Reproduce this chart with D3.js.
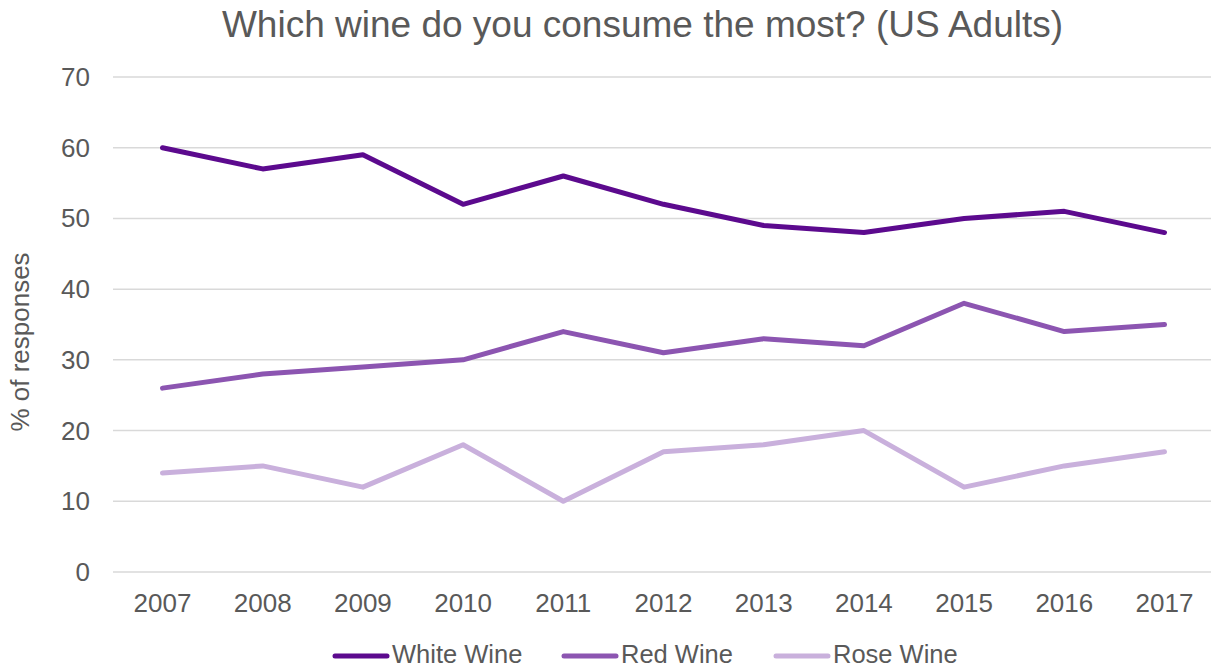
<!DOCTYPE html>
<html><head><meta charset="utf-8">
<script src="https://cdn.jsdelivr.net/npm/d3@7"></script>
<style>body{margin:0;background:#fff;} svg{display:block;font-family:"Liberation Sans",Arial,sans-serif;}</style>
</head><body>
<svg id="c" width="1211" height="669"></svg>
<script>
const years = ["2007","2008","2009","2010","2011","2012","2013","2014","2015","2016","2017"];
const whiteWine = [60,57,59,52,56,52,49,48,50,51,48];
const redWine = [26,28,29,30,34,31,33,32,38,34,35];
const roseWine = [14,15,12,18,10,17,18,20,12,15,17];
const yTicks = [0,10,20,30,40,50,60,70];
const seriesNames = ["White Wine","Red Wine","Rose Wine"];
const seriesColors = ["#5c0a8e","#8c55b1","#c9b0dc"];

const svg = d3.select("#c");
const x = d3.scalePoint().domain(years).range([162.5,1164.5]);
const y = d3.scaleLinear().domain([0,70]).range([572,77]);
const txt = "#595959";

svg.append("text").attr("x",642.5).attr("y",37).attr("text-anchor","middle")
  .attr("font-size",37).attr("fill",txt).text("Which wine do you consume the most? (US Adults)");

// grid
svg.append("g").selectAll("line").data(yTicks).join("line")
  .attr("x1",113).attr("x2",1211).attr("y1",d=>y(d)).attr("y2",d=>y(d))
  .attr("stroke","#d9d9d9").attr("stroke-width",1.5);

// y ticks
svg.append("g").selectAll("text").data(yTicks).join("text")
  .attr("x",90).attr("y",d=>y(d)+9).attr("text-anchor","end")
  .attr("font-size",26).attr("fill",txt).text(d=>d);

// x ticks
svg.append("g").selectAll("text").data(years).join("text")
  .attr("x",d=>x(d)).attr("y",612).attr("text-anchor","middle")
  .attr("font-size",26).attr("fill",txt).text(d=>d);

svg.append("text").attr("transform","translate(29,342) rotate(-90)").attr("text-anchor","middle")
  .attr("font-size",26).attr("fill",txt).text("% of responses");

const data = [whiteWine, redWine, roseWine];
const line = d3.line().x((d,i)=>x(years[i])).y(d=>y(d));
[2,1,0].forEach(k=>{
  svg.append("path").attr("d",line(data[k])).attr("fill","none")
    .attr("stroke",seriesColors[k]).attr("stroke-width",5)
    .attr("stroke-linecap","round").attr("stroke-linejoin","round");
});

// legend
const legX = [335, 564, 776];
seriesNames.forEach((n,i)=>{
  const g = svg.append("g");
  g.append("line").attr("x1",legX[i]).attr("x2",legX[i]+52).attr("y1",656).attr("y2",656)
    .attr("stroke",seriesColors[i]).attr("stroke-width",5).attr("stroke-linecap","round");
  g.append("text").attr("x",legX[i]+57).attr("y",663).attr("font-size",25.5).attr("fill",txt).text(n);
});
</script>
</body></html>
